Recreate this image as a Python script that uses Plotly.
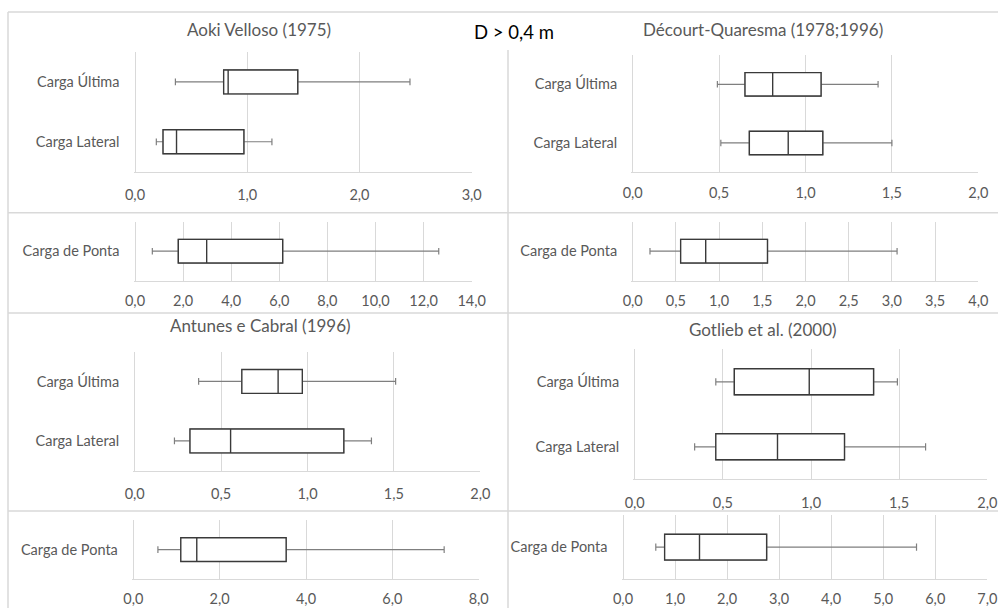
import plotly.graph_objects as go

W, H = 998, 608

# Box statistics: [min, Q1, median, Q3, max]
aoki_ultima = [0.36, 0.79, 0.83, 1.45, 2.45]
aoki_lateral = [0.19, 0.25, 0.37, 0.97, 1.22]
aoki_ponta = [0.72, 1.80, 2.98, 6.14, 12.63]

decourt_ultima = [0.49, 0.65, 0.81, 1.09, 1.42]
decourt_lateral = [0.51, 0.675, 0.90, 1.10, 1.50]
decourt_ponta = [0.20, 0.555, 0.845, 1.56, 3.06]

antunes_ultima = [0.37, 0.62, 0.83, 0.97, 1.51]
antunes_lateral = [0.23, 0.32, 0.555, 1.21, 1.37]
antunes_ponta = [0.57, 1.10, 1.47, 3.54, 7.20]

gotlieb_ultima = [0.46, 0.565, 0.99, 1.355, 1.49]
gotlieb_lateral = [0.34, 0.46, 0.81, 1.19, 1.65]
gotlieb_ponta = [0.63, 0.80, 1.47, 2.76, 5.64]

cats_top = ["Carga Lateral", "Carga Última"]
cats_ponta = ["Carga de Ponta"]

titles = ["Aoki Velloso (1975)", "Décourt-Quaresma (1978;1996)",
          "Antunes e Cabral (1996)", "Gotlieb et al. (2000)"]
main_title = "D > 0,4 m"

FONT = "Lato, 'Open Sans', sans-serif"
TXT = "#595959"
GRID = "#d9d9d9"
BOX_LINE = "#3a3a3a"
WHISKER = "#7f7f7f"

# panel layout in pixels: (x0, x1, y0, y1), x-range, dtick, x-label standoff
panels = [
    dict(stats=[aoki_lateral, aoki_ultima], cats=cats_top, px=(135, 471.7, 52, 171.7), rng=3, dt=1, so=10),
    dict(stats=[decourt_lateral, decourt_ultima], cats=cats_top, px=(632.7, 978.3, 55, 172.3), rng=2, dt=0.5, so=7),
    dict(stats=[aoki_ponta], cats=cats_ponta, px=(135, 471.7, 221.7, 280.7), rng=14, dt=2, so=7),
    dict(stats=[decourt_ponta], cats=cats_ponta, px=(632.7, 978.3, 221.7, 280.7), rng=4, dt=0.5, so=7),
    dict(stats=[antunes_lateral, antunes_ultima], cats=cats_top, px=(134.7, 480.3, 351.7, 470.7), rng=2, dt=0.5, so=10),
    dict(stats=[gotlieb_lateral, gotlieb_ultima], cats=cats_top, px=(634.7, 987.3, 349.3, 479.3), rng=2, dt=0.5, so=10),
    dict(stats=[antunes_ponta], cats=cats_ponta, px=(133.3, 478.7, 520, 579.3), rng=8, dt=2, so=6),
    dict(stats=[gotlieb_ponta], cats=cats_ponta, px=(623, 987.3, 515, 579.3), rng=7, dt=1, so=6),
]

fig = go.Figure()
layout = {}

for i, p in enumerate(panels):
    n = i + 1
    xa = "x" if n == 1 else f"x{n}"
    ya = "y" if n == 1 else f"y{n}"
    cats = p["cats"]
    st = p["stats"]
    mins = [s[0] for s in st]
    q1 = [s[1] for s in st]
    med = [s[2] for s in st]
    q3 = [s[3] for s in st]
    maxs = [s[4] for s in st]
    # whiskers (grey) drawn first, box outline (dark) on top
    fig.add_trace(go.Box(
        y=cats, q1=q1, median=med, q3=q3, lowerfence=mins, upperfence=maxs,
        orientation="h", xaxis=xa, yaxis=ya, width=0.4, whiskerwidth=0.28,
        fillcolor="white", line=dict(color=WHISKER, width=1.2),
        boxpoints=False, showlegend=False, hoverinfo="skip"))
    fig.add_trace(go.Box(
        y=cats, q1=q1, median=med, q3=q3, lowerfence=q1, upperfence=q3,
        orientation="h", xaxis=xa, yaxis=ya, width=0.4, whiskerwidth=0,
        fillcolor="white", line=dict(color=BOX_LINE, width=1.4),
        boxpoints=False, showlegend=False, hoverinfo="skip"))

    x0, x1, y0, y1 = p["px"]
    # tiny left pad so the grid line at 0 sits inside the plot area
    pad = 1.5 * p["rng"] / (x1 - x0)
    xk = "xaxis" if n == 1 else f"xaxis{n}"
    yk = "yaxis" if n == 1 else f"yaxis{n}"
    layout[xk] = dict(
        domain=[(x0 - 1.5) / W, x1 / W], anchor=ya, range=[-pad, p["rng"]],
        dtick=p["dt"], tick0=0, tickformat=".1f", automargin=False,
        showgrid=True, gridcolor=GRID, gridwidth=1,
        zeroline=False, showline=True, linecolor=GRID, linewidth=1,
        ticks="", ticklabelstandoff=p["so"],
        tickfont=dict(family=FONT, size=14.5, color=TXT), fixedrange=True)
    layout[yk] = dict(
        domain=[1 - y1 / H, 1 - y0 / H], anchor=xa, type="category",
        categoryorder="array", categoryarray=cats, automargin=False,
        range=[-0.5, len(cats) - 0.5], showgrid=False, zeroline=False,
        showline=False, ticks="", ticklabelstandoff=13,
        tickfont=dict(family=FONT, size=14.5, color=TXT), fixedrange=True)

# panel frames
frame = dict(type="line", xref="paper", yref="paper",
             line=dict(color=GRID, width=1.5), layer="below")
shapes = []
for yy in (12, 212.7, 313, 511):
    shapes.append(dict(frame, x0=8 / W, x1=1, y0=1 - yy / H, y1=1 - yy / H))
shapes.append(dict(frame, x0=8 / W, x1=8 / W, y0=1 - 12 / H, y1=0))
shapes.append(dict(frame, x0=508 / W, x1=508 / W, y0=1 - 50 / H, y1=0))

annotations = []
for t, (cx, cy) in zip(titles, [(258.8, 30), (762.5, 29.3), (260, 325), (762.5, 329.3)]):
    annotations.append(dict(text=t, x=cx / W, y=1 - cy / H, xref="paper", yref="paper",
                            xanchor="center", yanchor="middle", showarrow=False,
                            font=dict(family=FONT, size=17, color=TXT)))
annotations.append(dict(text=main_title, x=514 / W, y=1 - 32 / H, xref="paper", yref="paper",
                        xanchor="center", yanchor="middle", showarrow=False,
                        font=dict(family=FONT, size=18.5, color="#000000")))

fig.update_layout(
    width=W, height=H, autosize=False,
    margin=dict(l=0, r=0, t=0, b=0, autoexpand=False),
    paper_bgcolor="white", plot_bgcolor="white",
    separators=",.", boxmode="overlay",
    shapes=shapes, annotations=annotations,
    **layout)

fig.write_html("out.html")
